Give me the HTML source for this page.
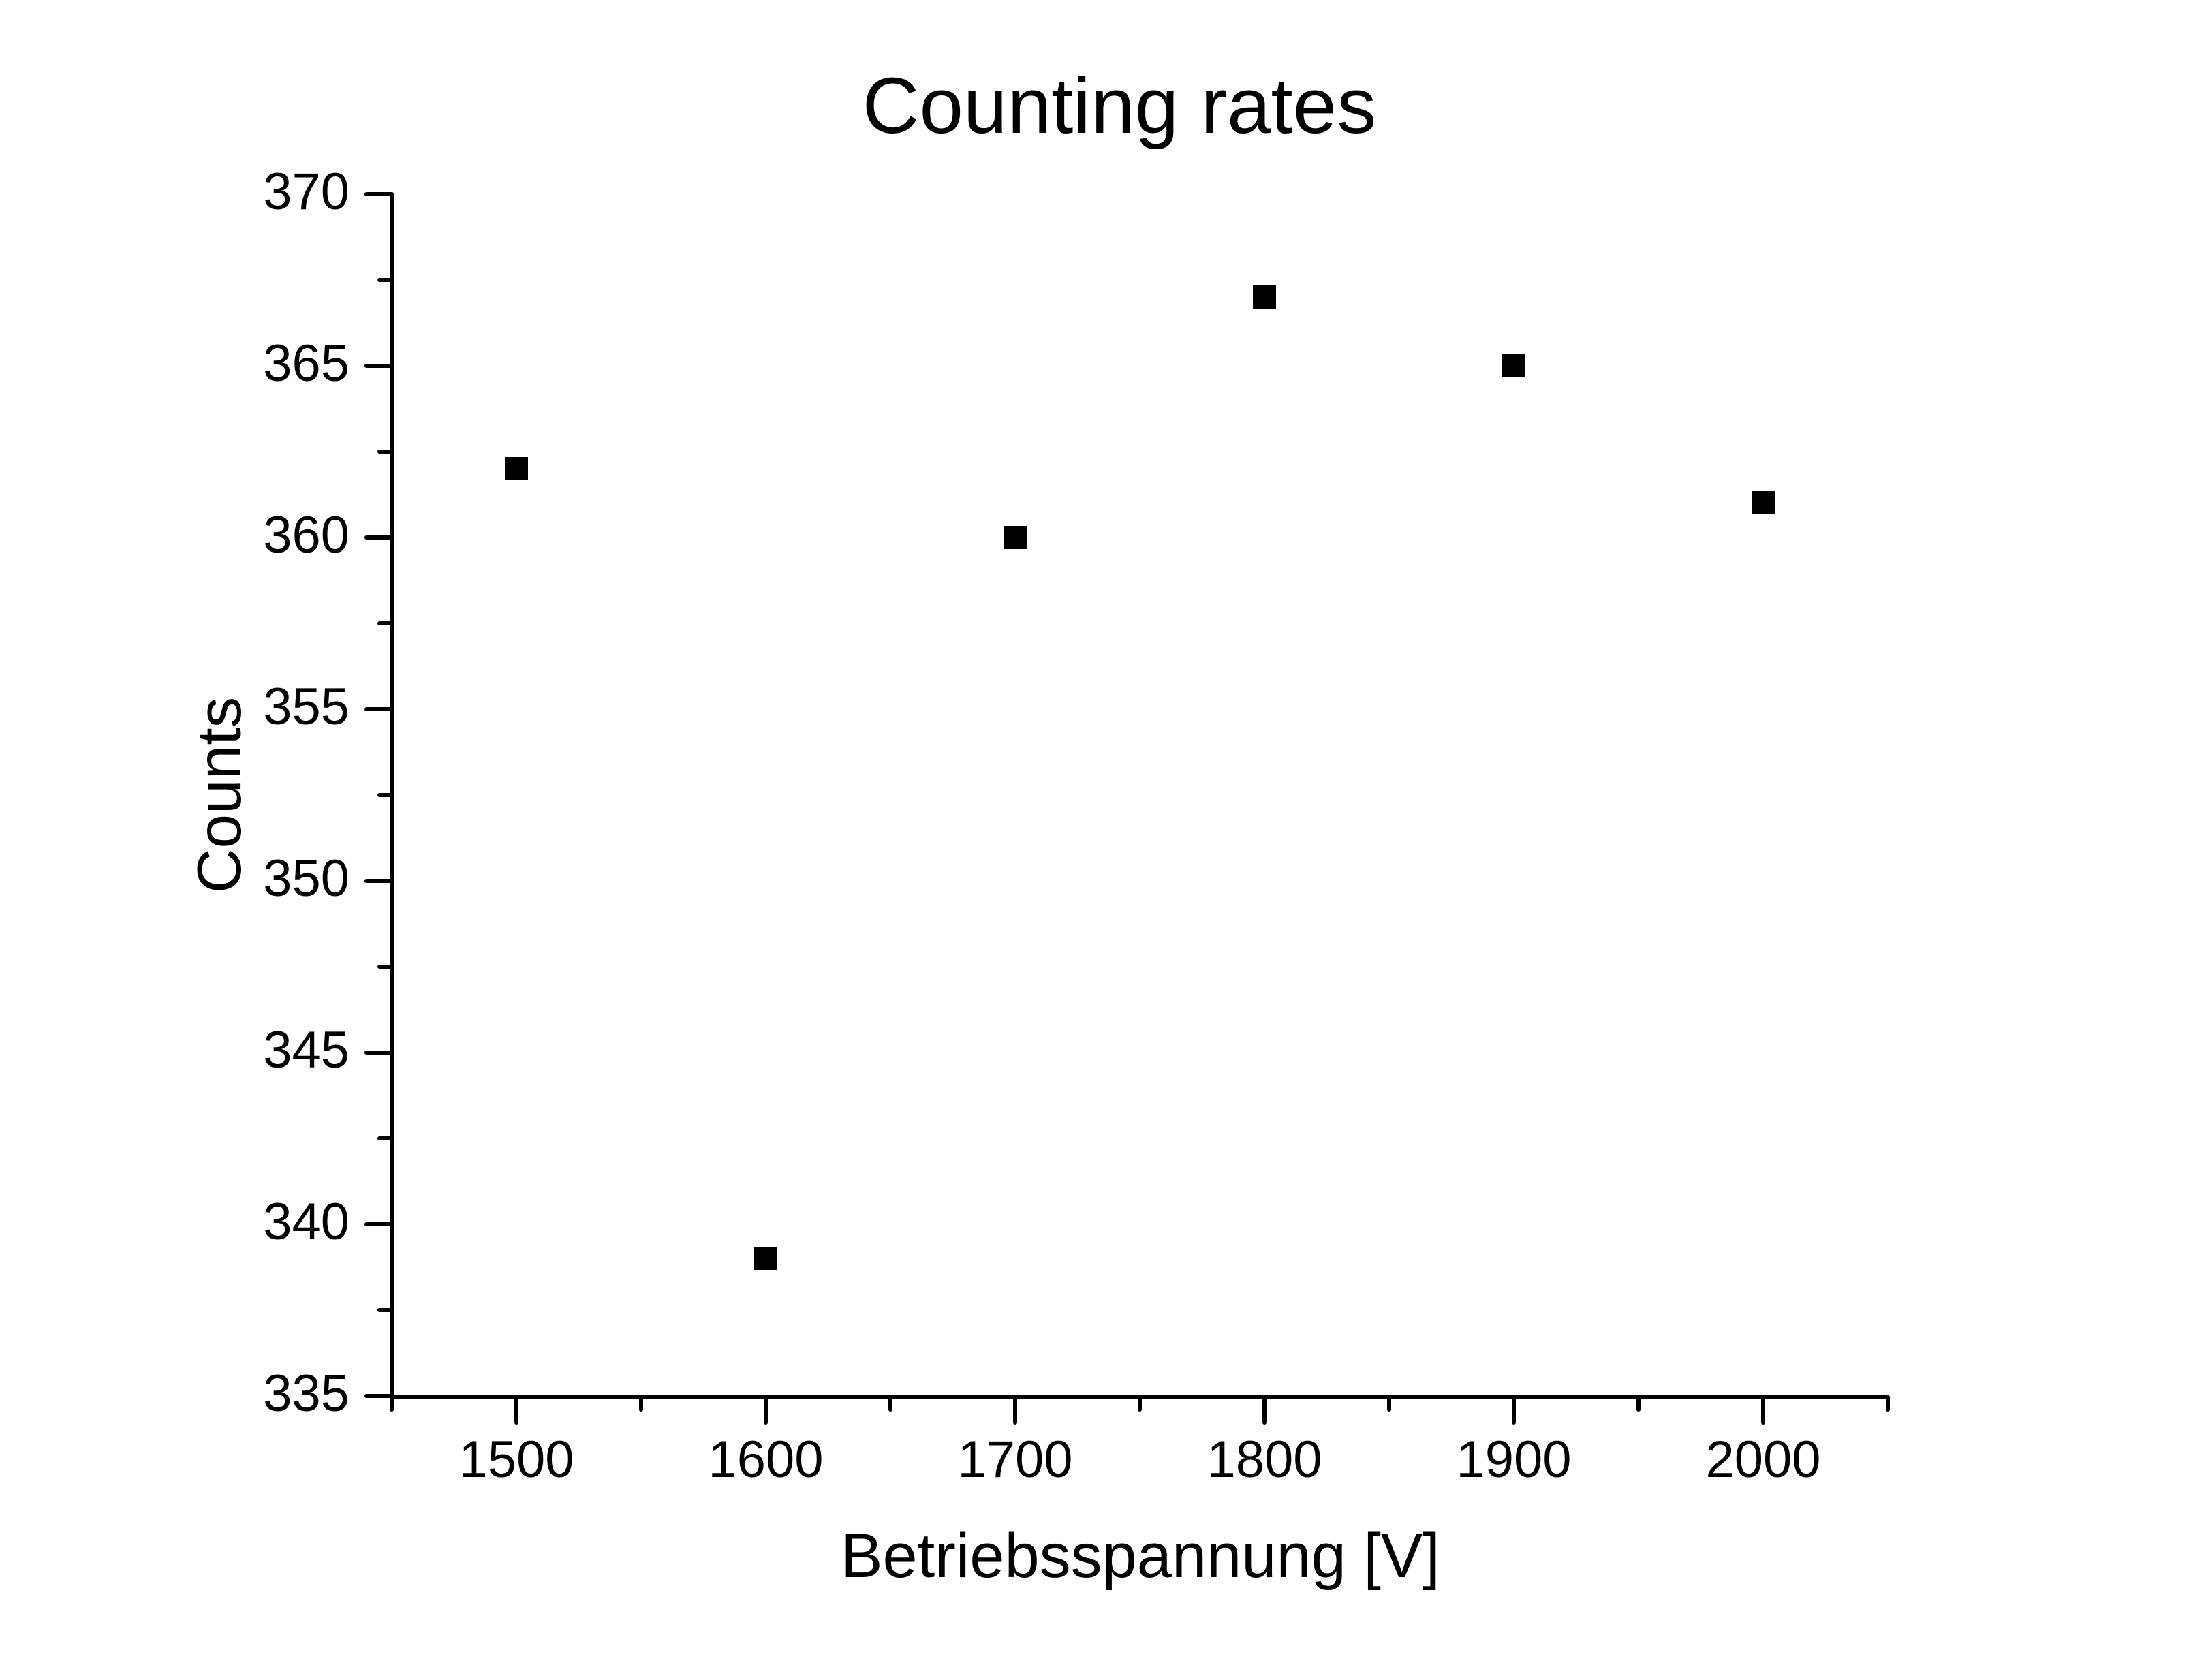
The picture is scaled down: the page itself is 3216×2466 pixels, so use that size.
<!DOCTYPE html>
<html><head><style>body{margin:0;background:#fff}</style></head><body>
<svg width="3216" height="2461" xmlns="http://www.w3.org/2000/svg" font-family="Liberation Sans, Arial, sans-serif">
<rect width="3216" height="2461" fill="#fff"/>
<text x="1643" y="195" font-size="116" text-anchor="middle">Counting rates</text>
<g stroke="#000" stroke-width="6" stroke-linecap="round" fill="none">
<line x1="575" y1="285" x2="575" y2="2051"/>
<line x1="575" y1="2051" x2="2771" y2="2051"/>
<path d="M538 285H575M538 537H575M538 789H575M538 1041H575M538 1293H575M538 1545H575M538 1797H575M538 2049H575"/>
<path d="M557 411H575M557 663H575M557 915H575M557 1167H575M557 1419H575M557 1671H575M557 1923H575"/>
<path d="M758 2051V2088M1124 2051V2088M1490 2051V2088M1856 2051V2088M2222 2051V2088M2588 2051V2088"/>
<path d="M575 2051V2069M941 2051V2069M1307 2051V2069M1673 2051V2069M2039 2051V2069M2405 2051V2069M2771 2051V2069"/>
</g>
<g font-size="76" text-anchor="end">
<text x="513" y="307">370</text><text x="513" y="559">365</text><text x="513" y="811">360</text><text x="513" y="1063">355</text>
<text x="513" y="1315">350</text><text x="513" y="1567">345</text><text x="513" y="1819">340</text><text x="513" y="2071">335</text>
</g>
<g font-size="76" text-anchor="middle">
<text x="758" y="2168">1500</text><text x="1124" y="2168">1600</text><text x="1490" y="2168">1700</text>
<text x="1856" y="2168">1800</text><text x="2222" y="2168">1900</text><text x="2588" y="2168">2000</text>
</g>
<text x="1674" y="2315" font-size="92" text-anchor="middle">Betriebsspannung [V]</text>
<text transform="translate(353,1167) rotate(-90)" font-size="91" text-anchor="middle">Counts</text>
<g fill="#000">
<rect x="741" y="671" width="34" height="34"/>
<rect x="1107" y="1830" width="34" height="34"/>
<rect x="1473" y="772" width="34" height="34"/>
<rect x="1839" y="419" width="34" height="34"/>
<rect x="2205" y="520" width="34" height="34"/>
<rect x="2571" y="721" width="34" height="34"/>
</g>
</svg>
</body></html>
